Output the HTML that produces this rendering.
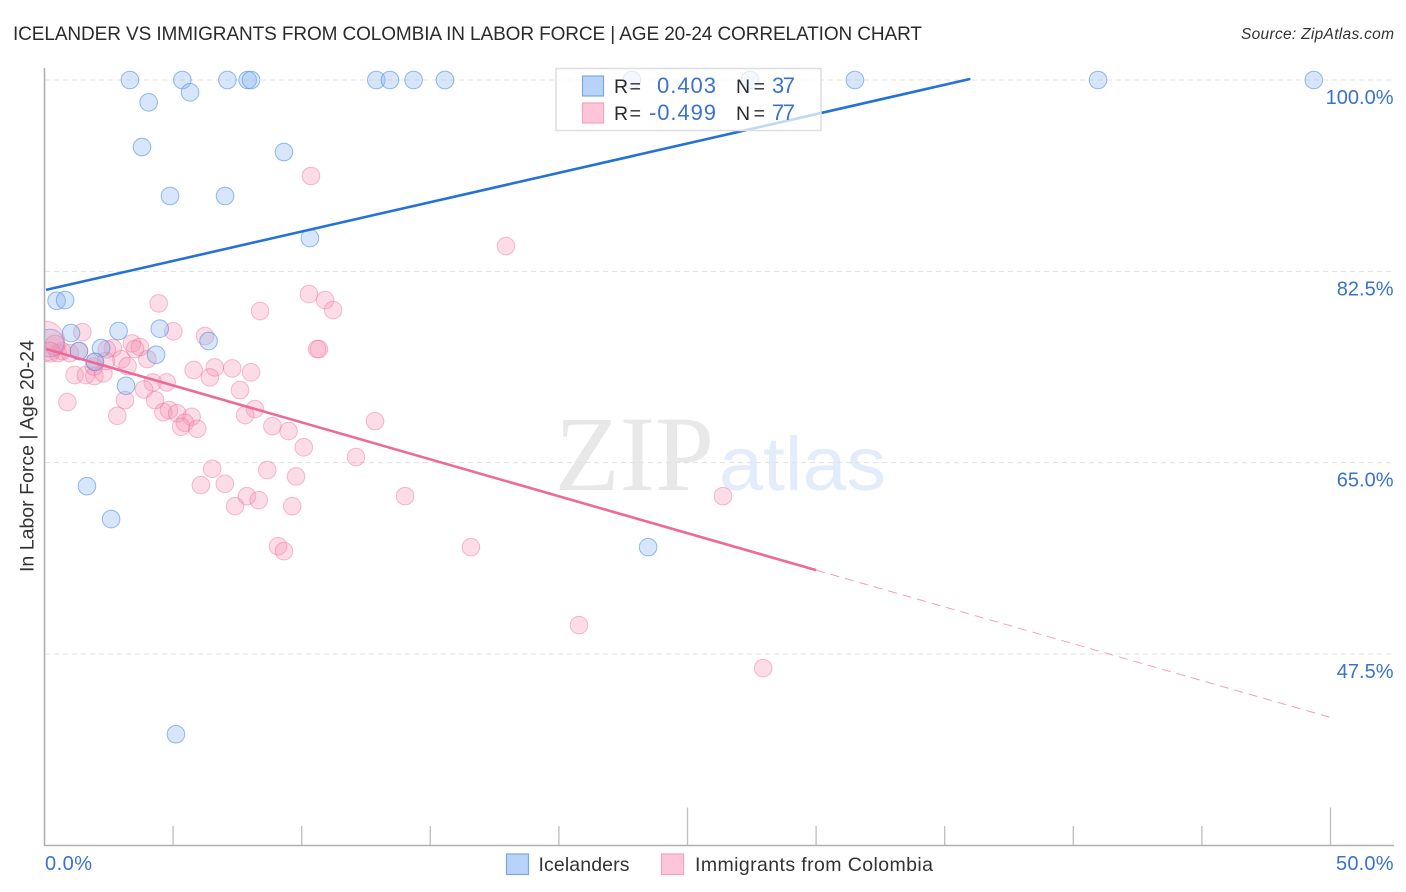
<!DOCTYPE html>
<html lang="en">
<head>
<meta charset="utf-8">
<title>Icelander vs Immigrants from Colombia in Labor Force | Age 20-24 Correlation Chart</title>
<style>
  html, body { margin: 0; padding: 0; background: #fff; }
  svg { display: block; font-family: "Liberation Sans", sans-serif; }
</style>
</head>
<body>
<svg id="chart" xmlns="http://www.w3.org/2000/svg" width="1406" height="892" viewBox="0 0 1406 892">
  <defs>
    <clipPath id="plot-clip"><rect x="45" y="60" width="1349" height="785"/></clipPath>
  </defs>
  <text x="13" y="40" font-size="19" fill="#2b2b2b" textLength="909" lengthAdjust="spacing">ICELANDER VS IMMIGRANTS FROM COLOMBIA IN LABOR FORCE | AGE 20-24 CORRELATION CHART</text>
  <text x="1394" y="39" font-size="15.5" font-style="italic" fill="#333" text-anchor="end" textLength="153" lengthAdjust="spacing">Source: ZipAtlas.com</text>

  <g>
    <text x="555" y="490" font-family="'Liberation Serif', serif" font-size="107" fill="#e8e8e8" textLength="159" lengthAdjust="spacingAndGlyphs">ZIP</text>
    <text x="719" y="490" font-size="76" fill="#e3ecfa" textLength="167" lengthAdjust="spacingAndGlyphs">atlas</text>
  </g>

  <g id="grid"></g>
  <g id="axes"></g>
  <g id="marks" clip-path="url(#plot-clip)"></g>
  <g id="trends" clip-path="url(#plot-clip)"></g>
  <g id="tick-labels"></g>

  <text transform="translate(33.5,456) rotate(-90)" font-size="19.5" fill="#333" text-anchor="middle" textLength="232" lengthAdjust="spacing">In Labor Force | Age 20-24</text>

  <g>
    <rect x="556" y="68.5" width="265" height="62" fill="#fff" fill-opacity="0.72" stroke="#dedede" stroke-width="1.5"/>
    <rect x="582.5" y="76" width="21" height="20" fill="#b9d3f8" stroke="#79a8e6" stroke-width="1.2"/>
    <rect x="582.5" y="103" width="21" height="20" fill="#fdc6d8" stroke="#f2a3bd" stroke-width="1.2"/>
    <text x="614" y="93" font-size="19.5" fill="#2b2b2b" textLength="27" lengthAdjust="spacing">R =</text>
    <text x="716" y="93" font-size="22" fill="#3a72cf" text-anchor="end" textLength="59" lengthAdjust="spacing">0.403</text>
    <text x="736" y="93" font-size="19.5" fill="#2b2b2b" textLength="29" lengthAdjust="spacing">N =</text>
    <text x="772" y="93" font-size="22" fill="#3a72cf" textLength="23" lengthAdjust="spacing">37</text>
    <text x="614" y="120" font-size="19.5" fill="#2b2b2b" textLength="27" lengthAdjust="spacing">R =</text>
    <text x="716" y="120" font-size="22" fill="#3a72cf" text-anchor="end" textLength="67" lengthAdjust="spacing">-0.499</text>
    <text x="736" y="120" font-size="19.5" fill="#2b2b2b" textLength="29" lengthAdjust="spacing">N =</text>
    <text x="772" y="120" font-size="22" fill="#3a72cf" textLength="23" lengthAdjust="spacing">77</text>
  </g>

  <g>
    <g>
      <rect x="506.5" y="854" width="22" height="20.5" fill="#b9d3f8" stroke="#79a8e6" stroke-width="1.2"/>
      <text x="538.5" y="871" font-size="19.5" fill="#333" textLength="91" lengthAdjust="spacing">Icelanders</text>
    </g>
    <g>
      <rect x="661.5" y="854" width="22" height="20.5" fill="#fdc6d8" stroke="#f2a3bd" stroke-width="1.2"/>
      <text x="695" y="871" font-size="19.5" fill="#333" textLength="238" lengthAdjust="spacing">Immigrants from Colombia</text>
    </g>
  </g>
</svg>

<script>
// ---------- chart data ----------
const xTickValues = [0, 5, 10, 15, 20, 25, 30, 35, 40, 45, 50];
const xMajorTicks = [0, 25, 50];
const xEdgeLabels = ["0.0%", "50.0%"];
const yTickValues = [100, 82.5, 65, 47.5];
const yTickLabels = ["100.0%", "82.5%", "65.0%", "47.5%"];

const icelanderX = [3.32, 5.36, 7.11, 7.90, 8.03, 12.90, 13.43, 14.35, 15.57, 22.84, 27.43, 31.51, 40.96, 49.35,
  5.66, 4.05, 3.79, 9.31, 4.88, 7.02, 10.32, 0.47, 0.80, 1.03, 2.88, 4.48, 6.38, 1.34, 2.20, 4.34, 1.96, 3.17,
  1.65, 2.59, 23.47, 5.11, 0.21];
const icelanderY = [100, 100, 100, 100, 100, 100, 100, 100, 100, 100, 100, 100, 100, 100,
  98.87, 97.96, 93.87, 93.41, 89.39, 89.39, 85.54, 79.81, 79.87, 76.85, 77.04, 77.25, 76.12, 75.21, 75.48, 74.87, 74.23, 72.03,
  62.85, 59.84, 57.27, 40.16, 75.94];
const icelanderWeight = [1, 1, 1, 1, 1, 1, 1, 1, 1, 1, 1, 1, 1, 1,
  1, 1, 1, 1, 1, 1, 1, 1, 1, 1, 1, 1, 1, 1, 1, 1, 1, 1,
  1, 1, 1, 1, 2.5];

const colombiaX = [10.36, 17.94, 10.28, 10.91, 11.22, 8.38, 4.44, 1.47, 5.01, 6.24, 10.60, 10.67, 3.40, 3.71, 2.66, 3.52, 2.42, 2.99, 4.00, 3.23,
  5.80, 6.62, 6.43, 7.30, 8.03, 7.60, 8.18, 7.80, 8.86, 9.49, 10.08, 6.52, 6.08, 7.01, 8.66, 9.78, 7.87, 8.33, 7.41, 9.63,
  9.08, 9.31, 12.85, 12.11, 14.02, 16.58, 26.38, 20.78, 27.94, 1.17, 1.61, 1.94, 2.29, 4.21, 4.75, 3.87, 4.30, 3.13, 0.89, 2.83,
  4.62, 4.84, 5.16, 5.72, 5.46, 5.31, 5.94, 0.00, 0.41, 0.21, 0.52, 0.68, 0.99, 1.96, 1.34, 2.39, 1.92];
const colombiaY = [91.22, 84.81, 80.42, 79.87, 78.96, 78.87, 79.57, 76.94, 77.01, 76.58, 75.39, 75.39, 75.91, 75.57, 75.48, 75.39, 75.36, 74.45, 74.47, 73.83,
  73.47, 73.71, 72.80, 73.62, 73.26, 71.64, 69.90, 69.35, 68.34, 67.89, 66.40, 64.44, 62.95, 63.07, 64.32, 63.74, 61.94, 61.57, 61.02, 61.02,
  57.36, 56.91, 68.80, 65.51, 61.94, 57.27, 61.94, 50.14, 46.20, 73.01, 73.01, 72.92, 73.17, 72.34, 72.34, 71.70, 70.72, 70.72, 70.54, 69.29,
  69.62, 69.81, 69.51, 69.19, 68.65, 68.28, 68.10, 76.12, 75.75, 75.11, 75.02, 75.21, 75.02, 74.20, 75.21, 74.29, 73.80];
const colombiaWeight = [1, 1, 1, 1, 1, 1, 1, 1, 1, 1, 1, 1, 1, 1, 1, 1, 1, 1, 1, 1,
  1, 1, 1, 1, 1, 1, 1, 1, 1, 1, 1, 1, 1, 1, 1, 1, 1, 1, 1, 1,
  1, 1, 1, 1, 1, 1, 1, 1, 1, 1, 1, 1, 1, 1, 1, 1, 1, 1, 1, 1,
  1, 1, 1, 1, 1, 1, 1, 5.2, 1.3, 1.3, 1, 1, 1, 1, 1, 1, 1];

const icelanderTrendX = [0.06, 36.0];
const icelanderTrendY = [80.8, 100.1];
const colombiaTrendSolidX = [0.06, 30];
const colombiaTrendSolidY = [75.4, 55.17];
const colombiaTrendDashX = [30, 50];
const colombiaTrendDashY = [55.17, 41.7];

// ---------- axis functions ----------
const xScale = v => 44.5 + (v - 0) * (1330.5 - 44.5) / 50;
const yScale = v => 80 + (100 - v) * (654 - 80) / 52.5;
const radius = w => 8.8 * Math.sqrt(w);

const NS = "http://www.w3.org/2000/svg";
function make(tag, attrs, parentId) {
  const el = document.createElementNS(NS, tag);
  Object.keys(attrs).forEach(k => el.setAttribute(k, attrs[k]));
  document.getElementById(parentId).appendChild(el);
  return el;
}

// ---------- gridlines and tick labels ----------
yTickValues.forEach((v, i) => {
  const line = make("line", { x1: 45, x2: 1394, y1: yScale(v), y2: yScale(v), stroke: "#e0e0e0", "stroke-width": 1, "stroke-dasharray": "5 4" }, "grid");
  
  
  const label = make("text", { x: 1393.5, y: yScale(v) + 24, "font-size": 20, fill: "#3a72cf", "text-anchor": "end" }, "tick-labels");
  
  
  label.textContent = yTickLabels[i];
});

// ---------- axes ----------
const yAxis = make("line", { x1: 44.5, x2: 44.5, y1: 68, y2: 846, stroke: "#b0b0b0", "stroke-width": 1.6 }, "axes");


const xAxis = make("line", { x1: 44, x2: 1394, y1: 845.5, y2: 845.5, stroke: "#b0b0b0", "stroke-width": 1.6 }, "axes");


xTickValues.forEach(v => {
  if (v === 0) return;
  const top = xMajorTicks.includes(v) ? 807.5 : 826;
  const tick = make("line", { x1: xScale(v), x2: xScale(v), y1: top, y2: 845, stroke: "#c2c2c2", "stroke-width": 1.4 }, "axes");
  
  
});
const xLabelLeft = make("text", { x: xScale(xTickValues[0]) + 0.5, y: 870, "font-size": 20, fill: "#3a72cf", textLength: 47, lengthAdjust: "spacing" }, "tick-labels");


xLabelLeft.textContent = xEdgeLabels[0];
const xLabelRight = make("text", { x: 1336, y: 870, "font-size": 20, fill: "#3a72cf", textLength: 57.5, lengthAdjust: "spacing" }, "tick-labels");


xLabelRight.textContent = xEdgeLabels[1];

// ---------- scatter points ----------
function drawColombia(i) {
  const c = make("circle", {
    cx: xScale(colombiaX[i]), cy: yScale(colombiaY[i]), r: radius(colombiaWeight[i]),
    fill: "#f48fb1", "fill-opacity": 0.3, stroke: "#ec6f9b", "stroke-opacity": 0.45, "stroke-width": 1
  }, "marks");
  
  
}
function drawIcelander(i) {
  const c = make("circle", {
    cx: xScale(icelanderX[i]), cy: yScale(icelanderY[i]), r: radius(icelanderWeight[i]),
    fill: "#90b9f2", "fill-opacity": 0.36, stroke: "#4f8fe3", "stroke-opacity": 0.6, "stroke-width": 1
  }, "marks");
  
  
}
colombiaX.forEach((_, i) => { if (colombiaWeight[i] === 1) drawColombia(i); });
icelanderX.forEach((_, i) => drawIcelander(i));
colombiaX.forEach((_, i) => { if (colombiaWeight[i] !== 1) drawColombia(i); });

// ---------- trend lines ----------
const blueTrend = make("line", {
  x1: xScale(icelanderTrendX[0]), y1: yScale(icelanderTrendY[0]),
  x2: xScale(icelanderTrendX[1]), y2: yScale(icelanderTrendY[1]),
  stroke: "#2472d8", "stroke-width": 2.6
}, "trends");


const pinkTrend = make("line", {
  x1: xScale(colombiaTrendSolidX[0]), y1: yScale(colombiaTrendSolidY[0]),
  x2: xScale(colombiaTrendSolidX[1]), y2: yScale(colombiaTrendSolidY[1]),
  stroke: "#ec6a9a", "stroke-width": 2.6
}, "trends");


const pinkDash = make("line", {
  x1: xScale(colombiaTrendDashX[0]), y1: yScale(colombiaTrendDashY[0]),
  x2: xScale(colombiaTrendDashX[1]), y2: yScale(colombiaTrendDashY[1]),
  stroke: "#ec6a9a", "stroke-width": 1, "stroke-opacity": 0.65, "stroke-dasharray": "9 6"
}, "trends");


</script>
</body>
</html>
